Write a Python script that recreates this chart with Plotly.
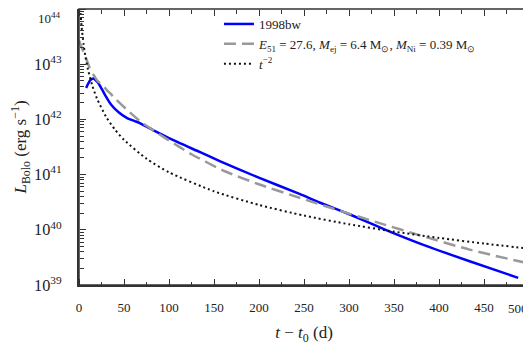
import plotly.graph_objects as go

# Bolometric light curve of SN 1998bw vs. model and t^-2 power law
days_bw = [8, 10, 12, 14, 16, 18, 21, 24, 29, 36, 44, 53, 62, 68, 84, 100, 134, 157,
           199, 245, 268, 305, 342, 379, 434, 488]
lum_bw = [3.72e42, 4.37e42, 5.01e42, 5.37e42, 5.50e42, 5.25e42, 4.68e42, 3.89e42,
          2.75e42, 1.82e42, 1.35e42, 1.07e42, 9.33e41, 8.51e41, 6.17e41, 4.57e41,
          2.57e41, 1.74e41, 8.91e40, 4.47e40, 3.09e40, 1.78e40, 9.77e39, 5.62e39,
          2.69e39, 1.35e39]

days_model = [0, 4, 8, 12, 16, 20, 30, 40, 55, 70, 96, 125, 162, 199, 245, 283, 334,
              379, 434, 500]
lum_model = [2.69e43, 1.82e43, 1.26e43, 8.51e42, 6.46e42, 5.13e42, 3.55e42, 2.40e42,
             1.41e42, 8.71e41, 4.57e41, 2.34e41, 1.15e41, 6.76e40, 3.80e40, 2.40e40,
             1.32e40, 7.94e39, 4.37e39, 2.45e39]

days_pl = [1, 2, 3, 5, 7, 10, 15, 20, 30, 40, 50, 75, 100, 150, 200, 250, 300, 350,
           400, 450, 500]
lum_pl = [1.28e44, 7.2e43, 4.6e43, 2.35e43, 1.42e43, 8.0e42, 3.98e42, 2.38e42, 1.12e42,
          6.5e41, 4.25e41, 1.94e41, 1.1e41, 4.98e40, 2.82e40, 1.81e40, 1.26e40, 9.28e39,
          7.12e39, 5.63e39, 4.56e39]

x_ticks = [0, 50, 100, 150, 200, 250, 300, 350, 400, 450, 500]

FONT = "Liberation Serif"
AX = "#333333"

fig = go.Figure()
fig.add_trace(go.Scatter(x=days_bw, y=lum_bw, mode="lines", name="1998bw",
                         line=dict(color="#0000ff", width=2.5, shape="spline", smoothing=0.6)))
fig.add_trace(go.Scatter(x=days_model, y=lum_model, mode="lines",
                         name="<i>E</i><sub>51</sub> = 27.6, <i>M</i><sub>ej</sub> = 6.4 M<sub>⊙</sub>, "
                              "<i>M</i><sub>Ni</sub> = 0.39 M<sub>⊙</sub>",
                         line=dict(color="#999999", width=2.5, dash="12px,6px",
                                   shape="spline", smoothing=0.6)))
fig.add_trace(go.Scatter(x=days_pl, y=lum_pl, mode="lines", name="<i>t</i><sup>−2</sup>",
                         line=dict(color="#111111", width=2, dash="2px,3px",
                                   shape="spline", smoothing=0.6)))
# empty traces so the tick-only overlay axes get drawn
fig.add_trace(go.Scatter(x=[], y=[], xaxis="x2", yaxis="y2", showlegend=False, hoverinfo="skip"))
fig.add_trace(go.Scatter(x=[], y=[], xaxis="x3", yaxis="y3", showlegend=False, hoverinfo="skip"))

# main axes: labels and titles only
fig.update_layout(
    xaxis=dict(range=[0, 500], tickmode="array", tickvals=x_ticks,
               ticktext=[str(v) if v < 500 else "" for v in x_ticks],
               ticks="", showline=True, linecolor=AX, linewidth=1.5,
               showgrid=False, zeroline=False, automargin=False, ticklabelstandoff=10,
               title=dict(text="<i>t</i> − <i>t</i><sub>0</sub> (d)", font=dict(size=17),
                          standoff=12)),
    yaxis=dict(type="log", range=[39, 44], tickmode="linear", tick0=0, dtick=1,
               exponentformat="power", showexponent="all",
               ticks="", showline=True, linecolor=AX, linewidth=1.5,
               showgrid=False, zeroline=False, automargin=False, ticklabelstandoff=13,
               title=dict(text="<i>L</i><sub>Bolo</sub> (erg s<sup>−1</sup>)",
                          font=dict(size=17), standoff=8)),
)

# overlay axes whose "outside" ticks point into the plot from every edge
tick_x = dict(range=[0, 500], overlaying="x", anchor="free", tickmode="linear", tick0=0,
              dtick=50, ticks="outside", ticklen=6, tickwidth=1, tickcolor=AX,
              showticklabels=False, showline=False, showgrid=False, zeroline=False,
              automargin=False,
              minor=dict(dtick=25, ticks="outside", ticklen=3.5, tickcolor=AX, showgrid=False))
tick_y = dict(type="log", range=[39, 44], overlaying="y", anchor="free", tickmode="linear",
              tick0=0, dtick=1, ticks="outside", ticklen=6, tickwidth=1, tickcolor=AX,
              showticklabels=False, showline=False, showgrid=False, zeroline=False,
              automargin=False,
              minor=dict(dtick="D1", ticks="outside", ticklen=3.5, tickcolor=AX, showgrid=False))
fig.update_layout(xaxis2=dict(tick_x, side="top", position=0),
                  xaxis3=dict(tick_x, side="bottom", position=1),
                  yaxis2=dict(tick_y, side="right", position=0),
                  yaxis3=dict(tick_y, side="left", position=1))

# frame around the plot area
fig.add_shape(type="rect", xref="paper", yref="paper", x0=0, x1=1, y0=0, y1=1,
              line=dict(color=AX, width=1.5), layer="above")
# edge labels that would otherwise fall off the page
fig.add_annotation(text="10<sup>44</sup>", xref="paper", yref="paper", x=0, y=1,
                   xanchor="right", yanchor="top", xshift=-16, yshift=1, showarrow=False,
                   font=dict(size=13))
fig.add_annotation(text="500", xref="paper", yref="paper", x=1, y=0,
                   xanchor="right", yanchor="top", xshift=1, yshift=-14, showarrow=False,
                   font=dict(size=13))

# page body adds an 8px offset, so the plot is shifted up/left by 8px
fig.update_layout(width=531, height=351, margin=dict(l=71, r=10, t=1, b=74),
                  plot_bgcolor="rgba(0,0,0,0)", paper_bgcolor="white",
                  font=dict(family=FONT, size=13, color="#222222"),
                  legend=dict(x=0.311, y=1.0, xanchor="left", yanchor="top",
                              bgcolor="rgba(0,0,0,0)", font=dict(size=13),
                              tracegroupgap=0))

fig.write_html("out.html")
